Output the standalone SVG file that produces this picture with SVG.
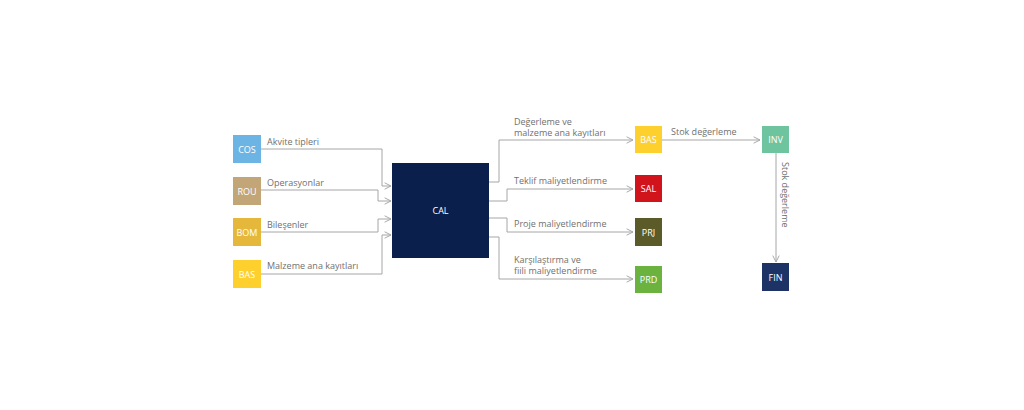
<svg xmlns="http://www.w3.org/2000/svg" width="1024" height="410" viewBox="0 0 1024 410">
<style>
.lbl{font-family:"Open Sans","Liberation Sans",sans-serif;font-size:9px;fill:#707070}
.bx{font-family:"Open Sans","Liberation Sans",sans-serif;font-size:9px;font-weight:400;fill:#ffffff;text-anchor:middle;dominant-baseline:central}
.ln{fill:none;stroke:#a6a6a6;stroke-width:1;marker-end:url(#ah)}
</style>
<defs>
<marker id="ah" viewBox="0 0 10 10" refX="9" refY="5" markerWidth="8" markerHeight="8" markerUnits="userSpaceOnUse" orient="auto">
<path d="M1,1 L9,5 L1,9" fill="none" stroke="#a6a6a6" stroke-width="1.2"/>
</marker>
</defs>
<rect width="1024" height="410" fill="#ffffff"/>
<g id="connectors">
<path class="ln" d="M261,149 H382 V186 H391"/>
<path class="ln" d="M261,190 H378 V201 H391"/>
<path class="ln" d="M261,232 H378 V219 H391"/>
<path class="ln" d="M261,274 H382 V235 H391"/>
<path class="ln" d="M489,182 H499 V140 H633"/>
<path class="ln" d="M489,201 H507 V189 H633"/>
<path class="ln" d="M489,218 H507 V232 H633"/>
<path class="ln" d="M489,237 H499 V279 H633"/>
<path class="ln" d="M662,140 H760"/>
<path class="ln" d="M776,153 V262"/>
<text class="lbl" x="267" y="145">Akvite tipleri</text>
<text class="lbl" x="267" y="186">Operasyonlar</text>
<text class="lbl" x="267" y="228">Bileşenler</text>
<text class="lbl" x="267" y="269">Malzeme ana kayıtları</text>
<text class="lbl" x="514" y="125">Değerleme ve</text>
<text class="lbl" x="514" y="136">malzeme ana kayıtları</text>
<text class="lbl" x="514" y="184">Teklif maliyetlendirme</text>
<text class="lbl" x="514" y="227">Proje maliyetlendirme</text>
<text class="lbl" x="514" y="263">Karşılaştırma ve</text>
<text class="lbl" x="514" y="274">fiili maliyetlendirme</text>
<text class="lbl" x="671" y="135">Stok değerleme</text>
<text class="lbl" transform="translate(782,162) rotate(90)">Stok değerleme</text>
</g>
<g id="COS"><rect x="233" y="135" width="28" height="28" fill="#6cb4e4"/><text class="bx" x="247" y="149">COS</text></g>
<g id="ROU"><rect x="233" y="177" width="28" height="28" fill="#c2a677"/><text class="bx" x="247" y="191">ROU</text></g>
<g id="BOM"><rect x="233" y="218" width="28" height="28" fill="#e5b83b"/><text class="bx" x="247" y="232">BOM</text></g>
<g id="BAS1"><rect x="233" y="260" width="28" height="28" fill="#fdd02d"/><text class="bx" x="247" y="274">BAS</text></g>
<g id="CAL"><rect x="392" y="163" width="97" height="95" fill="#0b1f4c"/><text class="bx" x="440.5" y="210.5">CAL</text></g>
<g id="BAS2"><rect x="635" y="126" width="27" height="27" fill="#fdd02d"/><text class="bx" x="648.5" y="139.5">BAS</text></g>
<g id="SAL"><rect x="635" y="175" width="27" height="27" fill="#d1141b"/><text class="bx" x="648.5" y="188.5">SAL</text></g>
<g id="PRJ"><rect x="635" y="218" width="27" height="28" fill="#5b5a29"/><text class="bx" x="648.5" y="232">PRJ</text></g>
<g id="PRD"><rect x="635" y="266" width="27" height="27" fill="#6bb33e"/><text class="bx" x="648.5" y="279.5">PRD</text></g>
<g id="INV"><rect x="762" y="126" width="27" height="27" fill="#6fc4a0"/><text class="bx" x="775.5" y="139.5">INV</text></g>
<g id="FIN"><rect x="762" y="263" width="27" height="28" fill="#1d3365"/><text class="bx" x="775.5" y="277">FIN</text></g>
</svg>
